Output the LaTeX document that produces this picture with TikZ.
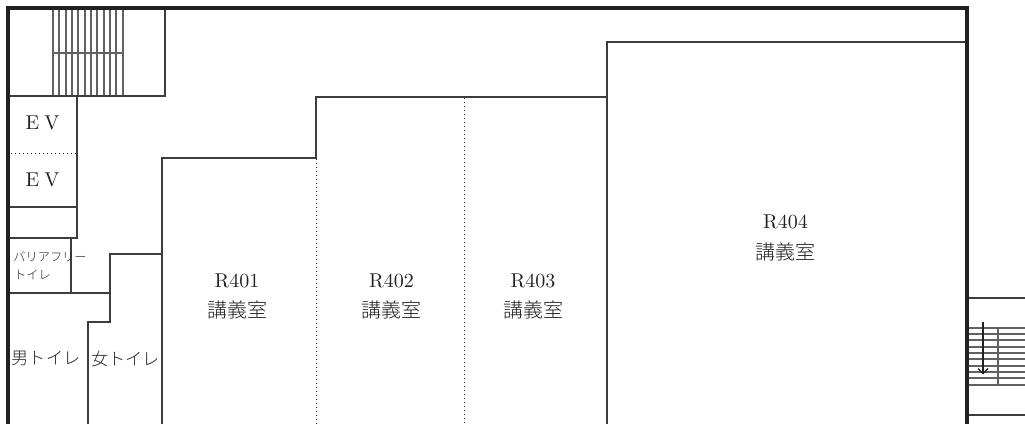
\documentclass[tikz,border=0pt]{standalone}
\usepackage{fontspec}
\newfontfamily\cjk{Noto Sans CJK JP Light}
\newfontfamily\numfont{lmroman10-regular.otf}
\definecolor{ink}{gray}{0.13}
\definecolor{lineink}{gray}{0.24}
\definecolor{stairink}{gray}{0.38}
\tikzset{
  x=1pt,y=-1pt,
  wall/.style={draw=lineink,line width=2.1pt,line cap=butt,line join=miter},
  outerwall/.style={draw=ink,line width=3.2pt,line cap=butt,line join=miter},
  stair/.style={draw=stairink,line width=2.1pt},
  partition/.style={draw=ink,line width=1.2pt,dash pattern=on 1.2pt off 2.8pt},
  thinline/.style={draw=ink,line width=1.2pt},
  roomlabel/.style={inner sep=0pt,align=center,text=ink},
  numtext/.style={font=\numfont\fontsize{20}{23}\selectfont},
  jptext/.style={font=\cjk\fontsize{20}{23}\selectfont},
  wctext/.style={font=\cjk\fontsize{17.2}{20}\selectfont},
  smalltext/.style={font=\cjk\fontsize{12.2}{15}\selectfont},
}
\begin{document}
\begin{tikzpicture}
\useasboundingbox (0,0) rectangle (1025,424);
% stairs, upper left
\foreach \xx in {53,59,66,72,78,85,91,97,104,110,116,123}{
  \draw[stair] (\xx,8) -- (\xx,96);
}
\draw[stair] (53,53) -- (123,53);
% walls
\draw[wall] (165,8) -- (165,96) -- (8,96);
\draw[wall] (77,96) -- (77,238) -- (8,238);
\draw[wall] (8,207) -- (77,207);
\draw[wall] (71,238) -- (71,293);
\draw[wall] (8,293) -- (110,293);
\draw[wall] (88,424) -- (88,322) -- (110,322) -- (110,254) -- (162,254);
\draw[wall] (162,424) -- (162,158) -- (316,158) -- (316,97) -- (607,97);
\draw[wall] (607,424) -- (607,42) -- (967,42);
% dotted partitions
\draw[partition] (11,153.5) -- (77,153.5);
\draw[partition] (316.5,158.5) -- (316.5,424);
\draw[partition] (464.5,97.5) -- (464.5,424);
% stairs, right
\draw[wall] (967,298) -- (1025,298);
\draw[wall] (967,415) -- (1025,415);
\foreach \yy in {328,334,340,347,353,359,366,372,378,385}{
  \draw[stair] (967,\yy) -- (1025,\yy);
}
\draw[stair] (998,328) -- (998,385);
\coordinate (arrowTop) at (983,322);
\coordinate (arrowTip) at (983,373.5);
\draw[thinline] (arrowTop) -- (arrowTip);
\draw[thinline] (978,368.5) -- (arrowTip) -- (988,368.5);
% outer wall
\draw[outerwall] (8,424) -- (8,8) -- (967,8) -- (967,424);
% labels
\node[roomlabel,numtext] (ev1) at (42.5,122.5) {E\hspace{5pt}V};
\node[roomlabel,numtext] (ev2) at (42.5,179.5) {E\hspace{5pt}V};
\node[roomlabel,smalltext] (bf) at (50,257) {バリアフリー};
\node[roomlabel,smalltext] (bf2) at (32.5,274.5) {トイレ};
\node[roomlabel,wctext] (men) at (46,358.5) {男トイレ};
\node[roomlabel,wctext] (women) at (125.5,358.5) {女トイレ};
\node[roomlabel,numtext] (r1) at (237,281) {R401};
\node[roomlabel,jptext] (r1b) at (237,309.5) {講義室};
\node[roomlabel,numtext] (r2) at (391.5,281) {R402};
\node[roomlabel,jptext] (r2b) at (391.5,309.5) {講義室};
\node[roomlabel,numtext] (r3) at (533,281) {R403};
\node[roomlabel,jptext] (r3b) at (533,309.5) {講義室};
\node[roomlabel,numtext] (r4) at (785.5,222) {R404};
\node[roomlabel,jptext] (r4b) at (785.5,251.5) {講義室};
\end{tikzpicture}
\end{document}
